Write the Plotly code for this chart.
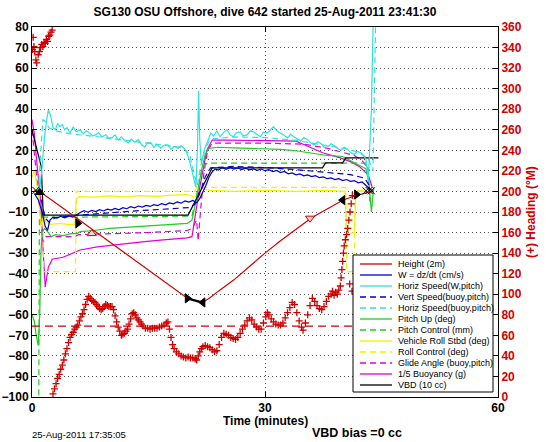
import plotly.graph_objects as go

# ---------------- data (time in minutes) ----------------
height_t = [0.3, 1.0, 4.0, 7.2, 10.0, 13.0, 16.0, 18.5, 20.0, 21.0, 22.0, 23.0, 24.0, 26.0, 28.0, 30.0,
            32.0, 34.0, 36.0, 38.0, 40.0, 41.5, 43.0, 43.8]
height_v = [0.5, 0.0, -8.2, -16.9, -24.6, -32.8, -41.0, -47.8, -51.9, -53.0, -54.0, -51.5, -48.5, -43.0,
            -36.5, -30.0, -24.0, -18.5, -12.8, -8.5, -4.3, -2.2, -0.8, 0.0]

bottom_t = [20.0, 20.5, 21.0, 21.5, 22.0]
bottom_v = [-52.0, -52.6, -53.0, -53.6, -54.0]

w_t = [0.3, 0.8, 1.3, 1.7, 2.0, 2.3, 2.7, 3.2, 3.7, 4.2, 4.7, 5.2, 5.7, 6.2, 6.7, 7.2, 7.7, 8.2, 8.7, 9.2,
       9.7, 10.2, 10.7, 11.2, 11.7, 12.2, 12.7, 13.2, 13.7, 14.2, 14.7, 15.2, 15.7, 16.2, 16.7, 17.2,
       17.7, 18.2, 18.7, 19.2, 19.7, 20.2, 20.7, 21.2, 21.6, 22.0, 22.4, 22.8, 23.2, 23.6, 24.0, 24.5,
       25.0, 25.5, 26.0, 26.5, 27.0, 27.5, 28.0, 28.5, 29.0, 29.5, 30.0, 30.5, 31.0, 31.5, 32.0, 32.5,
       33.0, 33.5, 34.0, 34.5, 35.0, 35.5, 36.0, 36.5, 37.0, 37.5, 38.0, 38.5, 39.0, 39.5, 40.0, 40.5,
       41.0, 41.5, 42.0, 42.5, 43.0, 43.5, 43.9]
w_v = [-1, -4, -10, -17, -19, -14, -12.5, -13, -12, -12.8, -11.9, -12.4, -11.5, -10.2, -9.4, -10.1,
       -9.2, -9.8, -8.9, -9.5, -8.6, -9.1, -8.3, -8.9, -7.9, -8.4, -7.4, -8.0, -7.1, -7.6, -6.8, -7.3,
       -6.4, -6.9, -5.9, -6.5, -5.6, -6.0, -5.1, -5.7, -4.6, -5.2, -4.4, -5.5, -3.5, -0.5, 3, 7, 9.5,
       11, 10.4, 11.6, 10.8, 11.7, 10.9, 11.4, 10.6, 11.3, 10.5, 11.0, 10.3, 10.9, 10.1, 10.6, 9.7, 10.2,
       9.2, 9.7, 8.6, 9.0, 8.1, 8.5, 7.6, 8.0, 7.2, 7.7, 6.7, 7.1, 6.2, 6.6, 5.8, 6.2, 5.3, 5.8, 4.9,
       5.3, 4.2, 4.6, 3.0, 1.0, 0.0]

# dotted reference level for vertical speed
wref_t = [0.0, 44.0]
wref_v = [15.6, 15.6]

hs_t = [0.5, 1.0, 1.3, 1.6, 1.9, 2.1, 2.4, 2.7, 3.0, 3.3, 3.6, 3.9, 4.2, 4.5, 4.9, 5.3, 5.7, 6.2, 6.6,
        7.0, 7.4, 7.8, 8.2, 8.6, 9.0, 9.5, 9.9, 10.3, 10.7, 11.1, 11.5, 12.0, 12.4, 12.8, 13.2, 13.7,
        14.1, 14.5, 14.9, 15.3, 15.7, 16.1, 16.6, 17.0, 17.5, 17.9, 18.3, 18.8, 19.2, 19.4, 19.7, 19.9,
        20.2, 20.5, 20.8, 21.1, 21.3, 21.45, 21.6, 21.8, 22.0, 22.3, 22.7, 23.0, 23.4, 23.8, 24.2, 24.6,
        25.1, 25.5, 25.9, 26.3, 26.8, 27.2, 27.7, 28.1, 28.5, 29.0, 29.4, 29.8, 30.3, 30.7, 31.1, 31.5,
        32.0, 32.4, 32.9, 33.3, 33.7, 34.2, 34.6, 35.0, 35.5, 35.9, 36.3, 36.8, 37.2, 37.6, 38.1, 38.5,
        38.9, 39.4, 39.8, 40.2, 40.6, 41.0, 41.5, 41.9, 42.4, 42.8, 43.0, 43.3, 43.7, 44.0]
hs_v = [0, 1, 12, 26, 35, 39.5, 37, 31, 30, 33, 31.5, 32.5, 30, 31, 28.4, 31.4, 29, 30, 28, 29.5, 28.5,
        27, 27.5, 28.5, 26.5, 27.6, 25.8, 26.2, 27.5, 25, 26.6, 24.5, 23.6, 25.5, 24, 25.2, 22.8, 21.6,
        23.8, 23.6, 21.5, 22.8, 21, 22.5, 22.6, 20.5, 22, 21, 22.3, 21.7, 20.5, 19, 16, 11.6, 6, 2, 20,
        49, 25, 14, 17, 21.7, 25, 28.4, 27, 29.5, 26.6, 28.5, 30, 27.5, 26.6, 28.5, 29, 27, 27.5, 29.5,
        29, 27.5, 26.6, 28.8, 28.5, 30, 31.5, 29.5, 28.5, 27.5, 26, 27.8, 26.6, 25.5, 24.6, 26.2, 25.2,
        23.5, 22.6, 24.2, 23.3, 21.5, 21.7, 23.2, 22.4, 20.8, 20, 21.5, 20.6, 19, 18, 19.5, 18.7, 17,
        15.4, 5, 40, 95]

vs_t = [1.2, 1.7, 2.2, 3.0, 6.0, 10.0, 14.0, 18.0, 20.3, 21.0, 21.6, 22.3, 23.0, 26.0, 30.0, 34.0,
        38.0, 41.0, 42.8, 43.6]
vs_v = [-4, -13, -15, -12.8, -11.5, -10.3, -9.3, -8.4, -7.8, -6, -1, 7, 11.5, 12.2, 11.6, 10.6, 9.3,
        8.2, 6.5, 2]

hsb_t = [0.8, 1.1, 1.4, 1.7, 2.2, 3.0, 5.0, 8.0, 11.0, 14.0, 17.0, 19.5, 20.3, 20.9, 21.3, 21.7, 22.3,
         23.0, 26.0, 30.0, 34.0, 37.0, 40.0, 42.0, 43.3, 43.9, 44.3]
hsb_v = [0, 18, 35, 34, 31, 29.5, 28, 26.8, 25.4, 24, 22.5, 21.3, 18, 8, 3, 12, 21, 25.5, 26.5, 26.2,
         24.8, 23, 21, 19.2, 16, 10, 95]

pitch_t = [0.0, 0.3, 0.5, 0.8, 1.0, 1.15, 1.3, 1.6, 2.0, 2.5, 3.0, 4.0, 5.0, 5.8, 6.2, 8.0, 10.0, 12.0,
           14.0, 16.0, 18.0, 20.0, 20.6, 21.2, 21.8, 22.3, 22.8, 24.0, 26.0, 28.0, 30.0, 32.0, 34.0,
           36.0, 38.0, 40.0, 41.0, 42.0, 43.0, 43.4, 43.7, 44.0]
pitch_v = [-60, -63, -69, -75, -60, -30, -20, -18, -19.5, -22, -21, -21.5, -20.5, -20.5, -19.5, -19,
           -18, -17.5, -17, -16.5, -16, -15.5, -14, -3, 10, 18, 21, 21.5, 21.2, 21, 20.8, 20.5, 19.8,
           18.5, 17.5, 17, 15, 13, 11, 4, -10, 2]

pc_t = [0.0, 0.85, 0.95, 1.3, 5.0, 10.0, 15.0, 20.0, 20.6, 21.3, 22.0, 22.6, 30.0, 38.0, 42.0, 43.2,
        43.5]
pc_v = [-130, -130, -13, -12.5, -12.5, -12.5, -12.2, -12, -12, 0, 12, 13.8, 13.8, 13.8, 13.8, 13.8, -5]

roll_t = [0.0, 0.3, 0.6, 0.9, 1.2, 1.5, 1.8, 2.5, 3.5, 4.5, 5.5, 5.7, 6.0, 8.0, 10.0, 12.0, 14.0, 16.0,
          18.0, 20.0, 20.8, 21.5, 22.2, 23.0, 26.0, 30.0, 34.0, 38.0, 40.3, 40.5, 40.7, 41.5, 41.7,
          42.0, 43.0, 43.8]
roll_v = [7, 10, 4, -5, -17, -12, -15, -16, -15.5, -16, -16, -4, -2.5, -2.8, -2.2, -2.6, -2.0, -2.4,
          -1.8, -1.5, -2.5, -3, 1, 0.5, 0, 0.5, 0, 0.5, 0, -20, -20.5, -20, -1, 0.5, 0, 1]

rc_t = [0.0, 1.3, 1.5, 5.6, 5.7, 21.0, 21.2, 40.4, 40.5, 41.5, 41.6, 43.8]
rc_v = [0, 0, -39, -39, 0, 0, 2, 2, -39, -39, 0, 0]

ga_t = [0.0, 0.5, 1.0, 1.4, 1.8, 2.5, 5.5, 6.0, 10.0, 15.0, 20.0, 20.6, 21.2, 21.4, 21.6, 22.1, 22.6,
        23.2, 30.0, 35.0, 38.0, 40.0, 41.5, 42.5, 43.5]
ga_v = [30, 12, -8, -25, -22, -22, -22, -21, -20.5, -20, -19, -18, -14, -24, -14, 8, 20, 23.5, 23.5,
        23, 21, 19, 17.5, 15, 10]

buoy_t = [0.0, 0.3, 0.6, 0.9, 1.2, 1.45, 1.7, 2.1, 2.6, 4.0, 5.2, 6.2, 8.4, 10.5, 12.6, 14.8, 16.9,
          18.5, 20.0, 20.6, 21.5, 22.5, 23.2, 25.0, 28.0, 31.0, 34.0, 35.5, 37.5, 39.7, 41.0, 42.2,
          43.3, 43.8]
buoy_v = [35, 28, 15, 3, -8, -30, -46.5, -37, -33, -32, -30, -28.5, -27, -26, -25, -24.3, -23.6, -23,
          -22.6, -22, 0, 20, 25, 25, 24.8, 24.5, 24.5, 22, 18.7, 16.3, 14.5, 12, 8, 2]

vbd_t = [0.0, 0.5, 1.0, 1.2, 1.45, 5.0, 10.0, 15.0, 20.1, 23.2, 30.0, 37.4, 37.8, 40.0, 40.4, 44.6]
vbd_v = [30, 22, 15, 12, -11.5, -11.5, -11.5, -11.5, -11.5, 11.5, 11.5, 11.5, 13.9, 13.9, 16.3, 16.3]

# heading (right axis, degrees magnetic)
head_t = [0.05, 0.15, 0.25, 0.35, 0.5, 0.6, 0.8, 0.95, 1.1, 1.25, 1.4, 1.55, 1.7, 1.85, 2.0, 2.15, 2.3,
          2.45, 2.6, 2.7, 2.9, 3.1, 3.3, 3.5, 3.7, 3.9, 4.1, 4.3, 4.5, 4.7, 4.9, 5.1, 5.3, 5.5, 5.7,
          5.9, 6.1, 6.3, 6.5, 6.7, 6.9, 7.1, 7.3, 7.5, 7.7, 7.9, 8.1, 8.3, 8.5, 8.7, 8.9, 9.1, 9.3,
          9.5, 9.7, 9.9, 10.1, 10.3, 10.5, 10.7, 10.9, 11.1, 11.3, 11.5, 11.7, 11.9, 12.1, 12.3, 12.5,
          12.7, 12.9, 13.1, 13.3, 13.5, 13.7, 13.9, 14.1, 14.3, 14.6, 14.9, 15.2, 15.5, 15.8, 16.1,
          16.4, 16.7, 17.0, 17.3, 17.5, 17.7, 17.9, 18.1, 18.3, 18.6, 18.9, 19.2, 19.5, 19.8, 20.1,
          20.4, 20.7, 21.0, 21.2, 21.4, 21.6, 21.8, 22.0, 22.3, 22.6, 22.9, 23.2, 23.5, 23.8, 24.1,
          24.4, 24.7, 25.0, 25.3, 25.6, 25.9, 26.2, 26.5, 26.8, 27.1, 27.4, 27.7, 28.0, 28.3, 28.6,
          28.9, 29.2, 29.5, 29.8, 30.1, 30.3, 30.5, 30.8, 31.1, 31.4, 31.7, 32.0, 32.3, 32.6, 32.9,
          33.2, 33.5, 33.8, 34.1, 34.4, 34.7, 34.9, 35.2, 35.5, 35.8, 36.1, 36.4, 36.7, 37.0, 37.3,
          37.6, 37.9, 38.2, 38.5, 38.7, 38.9, 39.1, 39.3, 39.5, 39.7, 39.8, 39.9, 40.0, 40.1, 40.2,
          40.35, 40.5, 40.65, 40.8, 40.95, 41.1, 41.25, 40.9, 41.2]
head_v = [338, 350, 341, 336, 328, 325, 333, 336, 340, 343, 341, 345, 344, 348, 346, 351, 352, 355, 357,
          3, 8, 13, 18, 22, 27, 31, 36, 42, 47, 53, 58, 61, 63, 66, 68, 70, 74, 78, 81, 85, 90, 95, 98,
          96, 94, 93, 92, 90, 88, 86, 85, 86, 88, 90, 89, 88, 88, 88, 85, 79, 73, 68, 64, 60, 61, 62,
          64, 66, 71, 76, 81, 82, 80, 77, 75, 73, 71, 69, 67, 67, 66, 67, 67, 67, 68, 69, 70, 72, 73,
          66, 58, 51, 47, 44, 42, 40, 39, 38, 39, 38, 38, 37, 36, 40, 44, 47, 49, 50, 49, 48, 46, 44,
          45, 51, 58, 62, 61, 60, 58, 57, 56, 58, 62, 66, 70, 74, 77, 75, 71, 68, 66, 66, 72, 78, 82,
          80, 76, 73, 71, 70, 70, 72, 77, 82, 87, 92, 90, 82, 74, 68, 65, 72, 80, 89, 96, 93, 89, 86,
          85, 88, 93, 98, 100, 103, 99, 102, 100, 104, 108, 116, 124, 132, 140, 147, 153, 158, 164,
          172, 180, 188, 196, 110, 103]

target_t = [0.0, 43.8]
target_head = [69, 69]

# dive event markers on the height trace
tri_right_t = [5.9, 20.0, 41.8]
tri_right_v = [-15.5, -52.0, -1.5]
tri_left_t = [22.0, 40.0]
tri_left_v = [-54.0, -4.2]
tri_up_t = [1.0]
tri_up_v = [-0.5]
open_up_t = [7.7]
open_up_v = [-20.5]
open_down_t = [35.8]
open_down_v = [-13.0]
cross_t = [0.5, 43.0, 43.4, 43.7]
cross_v = [0.5, 0.3, 0.5, 0.3]

# ---------------- styling ----------------
RED = "#d00000"
BLUE = "#0000c8"
CYAN = "#30e0e0"
GREEN = "#20cc20"
YELLOW = "#f2f200"
MAGENTA = "#e000e0"
DASH = "6px,4px"
FONT = "Liberation Sans, Arial, sans-serif"

series = [
    ("Height (2m)", height_t, height_v, RED, "solid"),
    ("W = dz/dt (cm/s)", w_t, w_v, BLUE, "solid"),
    ("Horiz Speed(W,pitch)", hs_t, hs_v, CYAN, "solid"),
    ("Vert Speed(buoy,pitch)", vs_t, vs_v, BLUE, DASH),
    ("Horiz Speed(buoy,pitch)", hsb_t, hsb_v, CYAN, DASH),
    ("Pitch Up (deg)", pitch_t, pitch_v, GREEN, "solid"),
    ("Pitch Control (mm)", pc_t, pc_v, GREEN, DASH),
    ("Vehicle Roll Stbd (deg)", roll_t, roll_v, YELLOW, "solid"),
    ("Roll Control (deg)", rc_t, rc_v, YELLOW, DASH),
    ("Glide Angle (buoy,pitch)", ga_t, ga_v, MAGENTA, DASH),
    ("1/5 Buoyancy (g)", buoy_t, buoy_v, MAGENTA, "solid"),
    ("VBD (10 cc)", vbd_t, vbd_v, "#000000", "solid"),
]

fig = go.Figure()
fig.add_trace(go.Scatter(x=wref_t, y=wref_v, mode="lines", showlegend=False,
                         line=dict(color="#2020a0", width=1, dash="1px,3px")))
draw_order = [10, 9, 8, 7, 6, 5, 11, 4, 3, 2, 1, 0]
for i in draw_order:
    name, xs, ys, col, dash = series[i]
    fig.add_trace(go.Scatter(x=xs, y=ys, mode="lines", name=name,
                             line=dict(color=col, width=1.2, dash=dash), showlegend=False))

fig.add_trace(go.Scatter(x=bottom_t, y=bottom_v, mode="lines", line=dict(color="black", width=2.5),
                         showlegend=False))


def mk(xs, ys, sym, fill, edge, size=8):
    fig.add_trace(go.Scatter(x=xs, y=ys, mode="markers", showlegend=False,
                             marker=dict(symbol=sym, size=size, color=fill,
                                         line=dict(color=edge, width=1))))


mk(tri_right_t, tri_right_v, "triangle-right", "black", "black")
mk(tri_left_t, tri_left_v, "triangle-left", "black", "black")
mk(tri_up_t, tri_up_v, "triangle-up", "black", "black")
mk(open_up_t, open_up_v, "triangle-up", "#ffd0d0", RED)
mk(open_down_t, open_down_v, "triangle-down", "#ffd0d0", RED)
mk(cross_t, cross_v, "x-thin", "black", "black", 7)

# heading on right axis
fig.add_trace(go.Scatter(x=target_t, y=target_head, yaxis="y2", mode="lines", showlegend=False,
                         line=dict(color=RED, width=1.2, dash="8px,5px")))
fig.add_trace(go.Scatter(x=head_t, y=head_v, yaxis="y2", mode="markers", showlegend=False,
                         marker=dict(symbol="cross-thin", size=5, color=RED,
                                     line=dict(color=RED, width=1.3))))

# ---------------- layout ----------------
L, R, T, B = 32, 48, 27, 45
W, H = 546, 442
PW, PH = W - L - R, H - T - B


def px_x(p):
    return (p - L) / PW


def px_y(p):
    return (H - B - p) / PH


grid = dict(showgrid=True, gridcolor="#555555", gridwidth=1, griddash="1px,3px")
fig.update_layout(
    width=W, height=H, autosize=False,
    margin=dict(l=L, r=R, t=T, b=B, autoexpand=False),
    paper_bgcolor="white", plot_bgcolor="white",
    font=dict(family=FONT, color="black"),
    title=dict(text="SG130 OSU Offshore, dive 642 started 25-Aug-2011 23:41:30",
               font=dict(size=12, weight="bold", family=FONT), x=0.5, xref="paper", xanchor="center",
               y=1 - 12 / H, yref="container", yanchor="middle"),
    xaxis=dict(range=[0, 60], tickvals=[0, 30, 60], ticks="inside", ticklen=5, tickcolor="black",
               showline=True, linecolor="black", linewidth=1, mirror="ticks", zeroline=False,
               automargin=False, tickfont=dict(size=12, weight="bold", family=FONT), **grid),
    yaxis=dict(range=[-100, 80], dtick=10, tick0=0, ticks="inside", ticklen=5, tickcolor="black",
               showline=True, linecolor="black", linewidth=1, zeroline=False, automargin=False,
               tickfont=dict(size=12, weight="bold", family=FONT), **grid),
    yaxis2=dict(range=[0, 360], dtick=20, tick0=0, overlaying="y", side="right", ticks="inside",
                ticklen=5, tickcolor="black", showline=True, linecolor="black", linewidth=1,
                showgrid=False, zeroline=False, automargin=False,
                tickfont=dict(size=12, weight="bold", family=FONT, color=RED)),
    showlegend=False,
)

# manual legend (compact like MATLAB's)
shapes = [dict(type="rect", xref="paper", yref="paper", x0=px_x(353), x1=px_x(493), y0=px_y(392),
               y1=px_y(255), line=dict(color="black", width=1), fillcolor="white", layer="above")]
annotations = []
for i, (name, xs, ys, col, dash) in enumerate(series):
    yc = 264 + 11 * i
    shapes.append(dict(type="line", xref="paper", yref="paper", x0=px_x(360), x1=px_x(392),
                       y0=px_y(yc), y1=px_y(yc), line=dict(color=col, width=1.3, dash=dash),
                       layer="above"))
    annotations.append(dict(text=name, xref="paper", yref="paper", x=px_x(396), y=px_y(yc),
                            xanchor="left", yanchor="middle", showarrow=False,
                            font=dict(size=9, family=FONT, color="black")))

# axis titles and footer texts
annotations.append(dict(text="Time (minutes)", xref="paper", yref="paper", x=0.5, y=px_y(421),
                        xanchor="center", yanchor="middle", showarrow=False,
                        font=dict(size=12, weight="bold", family=FONT, color="black")))
annotations.append(dict(text="(+) Heading (°M)", xref="paper", yref="paper", x=px_x(531), y=0.5,
                        xanchor="center", yanchor="middle", textangle=-90, showarrow=False,
                        font=dict(size=12, weight="bold", family=FONT, color=RED)))
annotations.append(dict(text="25-Aug-2011 17:35:05", xref="paper", yref="paper", x=px_x(30),
                        y=px_y(434), xanchor="left", yanchor="middle", showarrow=False,
                        font=dict(size=9.5, family=FONT, color="black")))
annotations.append(dict(text="VBD bias =0 cc", xref="paper", yref="paper", x=px_x(310),
                        y=px_y(433), xanchor="left", yanchor="middle", showarrow=False,
                        font=dict(size=12.5, weight="bold", family=FONT, color="black")))
fig.update_layout(shapes=shapes, annotations=annotations)

fig.write_html("out.html", config={"displayModeBar": False},
               post_script="document.body.style.margin='0';document.body.style.overflow='hidden';")
